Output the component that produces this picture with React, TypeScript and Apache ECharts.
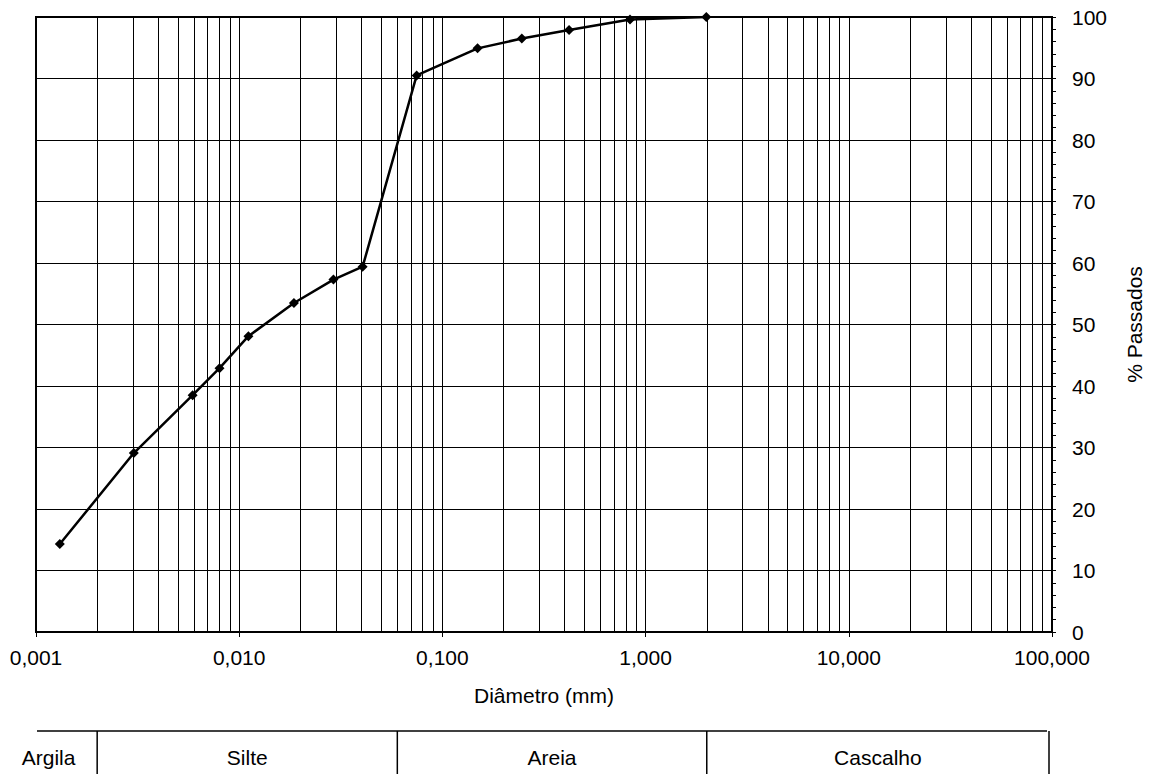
import React, { useEffect, useRef } from "react";
import * as echarts from "echarts";

// Grain size distribution (diameter mm, % passing)
const diameters = [0.00131, 0.00303, 0.0059, 0.008, 0.0111, 0.0186, 0.0291, 0.0405, 0.0747, 0.149, 0.246, 0.42, 0.838, 1.99];
const passing = [14.3, 29.1, 38.5, 42.9, 48.1, 53.5, 57.3, 59.4, 90.5, 94.9, 96.5, 97.9, 99.6, 100];

// Log grid
const decades = [0.001, 0.01, 0.1, 1, 10];
const multipliers = [2, 3, 4, 5, 6, 7, 8, 9];

// Classification bands (boundaries in mm)
const classNames = ["Argila", "Silte", "Areia", "Cascalho"];
const classBounds = [0.002, 0.06, 2];

const FONT = "'Liberation Sans', Arial, sans-serif";
const FS = 21;

function fmtX(v: number): string {
  return v.toFixed(3).replace(".", ",");
}

export default function App() {
  const ref = useRef<HTMLDivElement>(null);
  useEffect(() => {
    if (!ref.current) return;
    const chart = echarts.init(ref.current, null, { renderer: "svg" });
    const minorGrid: number[] = [];
    decades.forEach((d) => multipliers.forEach((m) => minorGrid.push(parseFloat((d * m).toPrecision(6)))));

    chart.setOption({
      animation: false,
      backgroundColor: "#fff",
      textStyle: { fontFamily: FONT },
      grid: {
        left: 36,
        right: 97,
        top: 17,
        bottom: 142,
        containLabel: false,
        outerBoundsMode: "none",
        show: true,
        borderColor: "#000",
        borderWidth: 2,
      },
      xAxis: {
        type: "log",
        logBase: 10,
        min: 0.001,
        max: 100,
        name: "Diâmetro (mm)",
        nameLocation: "middle",
        nameGap: 53,
        nameTextStyle: { fontSize: FS, color: "#000", fontFamily: FONT },
        axisLine: { show: true, lineStyle: { color: "#000", width: 2 } },
        axisTick: { show: true, length: 5, lineStyle: { color: "#000", width: 1 } },
        axisLabel: { fontSize: FS, color: "#000", margin: 15, fontFamily: FONT, formatter: (v: number) => fmtX(v) },
        splitLine: { show: true, lineStyle: { color: "#000", width: 1 } },
      },
      yAxis: {
        type: "value",
        position: "right",
        min: 0,
        max: 100,
        interval: 10,
        name: "% Passados",
        nameLocation: "middle",
        nameRotate: 90,
        nameGap: 72,
        nameTextStyle: { fontSize: FS, color: "#000", fontFamily: FONT },
        axisLine: { show: true, lineStyle: { color: "#000", width: 2 } },
        axisTick: { show: true, length: 4, lineStyle: { color: "#000", width: 1 } },
        minorTick: { show: true, splitNumber: 5, length: 4, lineStyle: { color: "#000", width: 1 } },
        axisLabel: { fontSize: FS, color: "#000", margin: 20, align: "left", fontFamily: FONT },
        splitLine: { show: true, lineStyle: { color: "#000", width: 1 } },
      },
      series: [
        {
          type: "lines",
          coordinateSystem: "cartesian2d",
          z: 1,
          silent: true,
          polyline: false,
          lineStyle: { color: "#000", width: 1, opacity: 1 },
          data: minorGrid.map((v) => ({ coords: [[v, 0], [v, 100]] })),
        },
        {
          type: "line",
          z: 5,
          data: diameters.map((d, i) => [d, passing[i]]),
          symbol: "diamond",
          symbolSize: 10,
          itemStyle: { color: "#000" },
          lineStyle: { color: "#000", width: 2.5 },
        },
      ],
    });

    // Classification strip under the chart
    const px = classBounds.map((b) => chart.convertToPixel({ xAxisIndex: 0 }, b) as number);
    const left = 0;
    const right = 1049;
    const lineY = 731;
    const bottomY = 774;
    const edges = [left, ...px, right];
    const graphics: any[] = [
      { type: "line", shape: { x1: 37, y1: lineY, x2: 1047, y2: lineY }, style: { stroke: "#000", lineWidth: 1.5 } },
    ];
    px.forEach((x) => {
      graphics.push({ type: "line", shape: { x1: x, y1: lineY, x2: x, y2: bottomY }, style: { stroke: "#000", lineWidth: 1.5 } });
    });
    graphics.push({ type: "line", shape: { x1: right, y1: lineY, x2: right, y2: bottomY }, style: { stroke: "#000", lineWidth: 1.5 } });
    classNames.forEach((n, i) => {
      graphics.push({
        type: "text",
        x: (edges[i] + edges[i + 1]) / 2,
        y: 757,
        style: { text: n, fill: "#000", font: `${FS}px ${FONT}`, align: "center", verticalAlign: "middle" },
      });
    });
    chart.setOption({ graphic: graphics });

    return () => chart.dispose();
  }, []);
  return <div ref={ref} style={{ position: "fixed", left: 0, top: 0, width: 1149, height: 774 }} />;
}
